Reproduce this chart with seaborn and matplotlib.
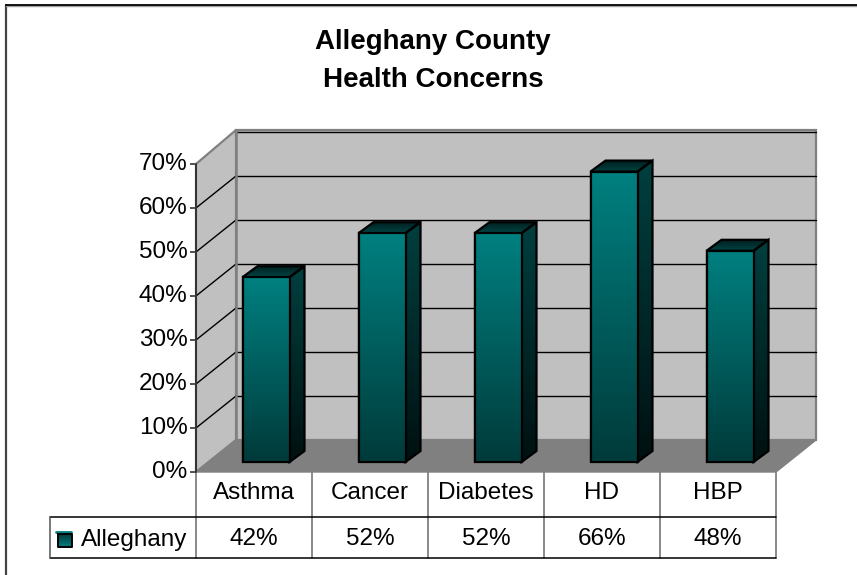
import numpy as np
import pandas as pd
import matplotlib
matplotlib.use('Agg')
import matplotlib.pyplot as plt
from matplotlib.colors import LinearSegmentedColormap
from matplotlib.patches import Polygon
from matplotlib.transforms import ScaledTranslation
import seaborn as sns

categories = ['Asthma', 'Cancer', 'Diabetes', 'HD', 'HBP']
values = [0.42, 0.52, 0.52, 0.66, 0.48]
series_name = 'Alleghany'
title = 'Alleghany County\nHealth Concerns'
y_ticks = [0, 0.1, 0.2, 0.3, 0.4, 0.5, 0.6, 0.7]

W, H = 857, 575
FS = 17.5
sns.set_theme(style='white')
plt.rcParams['font.family'] = ['Liberation Sans', 'DejaVu Sans']

front = LinearSegmentedColormap.from_list('front', ['#003a3a', '#008080'])
side = LinearSegmentedColormap.from_list('side', ['#001010', '#004040'])
top = LinearSegmentedColormap.from_list('top', ['#004545', '#001f1f'])


def px_axes(fig, x0, y_top, x1, y_bottom):
    return fig.add_axes([x0 / W, 1 - y_bottom / H, (x1 - x0) / W, (y_bottom - y_top) / H])


fig = plt.figure(figsize=(W / 100, H / 100), dpi=100, facecolor='white')

# page layer, pixel coordinates for frame and table
page = fig.add_axes([0, 0, 1, 1])
page.set_xlim(0, W)
page.set_ylim(H, 0)
page.axis('off')
page.plot([6, 6], [H, 4.5], color='#444444', lw=1.6)
page.plot([6, W], [5.5, 5.5], color='#a0a0a0', lw=1.0)
page.plot([6, W], [4.5, 4.5], color='black', lw=1.3)
page.text(433, 61, title, ha='center', va='center', fontsize=20, fontweight='bold',
          color='black', linespacing=1.6)

# walls share the value scale of the bars
wall = px_axes(fig, 196, 164, 776, 472)
wall.set_xlim(-0.5, 4.5)
wall.set_ylim(0, 0.7)
wall.patch.set_alpha(0)
sns.despine(ax=wall, left=True, bottom=True)
dx, dy = 40 / 116, 32 / 440
x0, x1, ymax = -0.5, 4.5, 0.7
up = 2 / 440
wall.add_patch(Polygon([(x0 + dx, dy), (x1 + dx, dy), (x1 + dx, ymax + dy + up), (x0 + dx, ymax + dy + up)],
                       fc='#c0c0c0', ec='#808080', lw=1.6, clip_on=False, zorder=1))
wall.add_patch(Polygon([(x0, 0), (x0 + dx, dy), (x0 + dx, ymax + dy + up), (x0, ymax)],
                       fc='#c0c0c0', ec='#808080', lw=1.6, clip_on=False, zorder=1))
wall.add_patch(Polygon([(x0, 0), (x1, 0), (x1 + dx, dy), (x0 + dx, dy)],
                       fc='#808080', ec='#808080', lw=1, clip_on=False, zorder=2))
for t in y_ticks[1:]:
    wall.plot([x0 + dx, x1 + dx], [t + dy, t + dy], color='black', lw=1.0, clip_on=False, zorder=2)
    if t < ymax:
        wall.plot([x0, x0 + dx], [t, t + dy], color='black', lw=1.0, clip_on=False, zorder=2)
wall.plot([x0 + dx, x0 + dx], [dy, ymax + dy + up], color='#808080', lw=1.8, clip_on=False, zorder=3)
wall.plot([x0, x0], [0, ymax], color='#333333', lw=1.4, clip_on=False, zorder=3)
wall.set_xticks([])
wall.set_yticks(y_ticks)
wall.set_yticklabels([f'{t:.0%}' for t in y_ticks], fontsize=FS, color='black')
wall.tick_params(axis='y', left=True, length=4, width=1.2, color='#333333', pad=2)
wall.tick_params(axis='x', bottom=False)
for lab in wall.get_yticklabels():
    lab.set_transform(lab.get_transform() + ScaledTranslation(0, 2 / 100, fig.dpi_scale_trans))
wall.set_xlabel('')
wall.set_ylabel('')

# bars stand a little behind the front edge of the floor
ax = px_axes(fig, 208, 154, 788, 462)
df = pd.DataFrame({'category': categories, 'value': values})
sns.barplot(data=df, x='category', y='value', color='#008080', width=47 / 116, ax=ax,
            saturation=1, edgecolor='black', linewidth=1.6, zorder=3)
ax.set_xlim(-0.5, 4.5)
ax.set_ylim(0, 0.7)
ax.axis('off')
ddx, ddy = 15 / 116, 11 / 440
grad = np.linspace(0, 1, 256).reshape(-1, 1)


def fill(poly, cmap, extent, data):
    ax.add_patch(poly)
    im = ax.imshow(data, origin='lower', cmap=cmap, extent=extent, aspect='auto', zorder=poly.get_zorder() - 0.1)
    im.set_clip_path(poly)


for bar in list(ax.patches):
    xl, w, v = bar.get_x(), bar.get_width(), bar.get_height()
    xr = xl + w
    s = Polygon([(xr, 0), (xr + ddx, ddy), (xr + ddx, v + ddy), (xr, v)], fc='none', ec='black',
                lw=1.6, zorder=4, clip_on=False)
    fill(s, side, (xr, xr + ddx, 0, v + ddy), grad)
    t = Polygon([(xl, v), (xr, v), (xr + ddx, v + ddy), (xl + ddx, v + ddy)], fc='none', ec='black',
                lw=1.6, zorder=4, clip_on=False)
    fill(t, top, (xl, xr + ddx, v, v + ddy), grad)
    f = Polygon([(xl, 0), (xr, 0), (xr, v), (xl, v)], fc='none', ec='black',
                lw=1.6, zorder=5, clip_on=False)
    fill(f, front, (xl, xr, 0, v), grad)
ax.set_xlim(-0.5, 4.5)
ax.set_ylim(0, 0.7)

# data table under the chart
col_edges = [196, 312, 428, 544, 660, 776]
for xe in col_edges:
    page.plot([xe, xe], [472, 557.5], color='#808080', lw=1.3)
page.plot([50, 776], [516.5, 516.5], color='black', lw=1.1)
page.plot([50, 776], [557.5, 557.5], color='black', lw=1.1)
page.plot([50, 50], [516.5, 557.5], color='#555555', lw=1.1)
for i, c in enumerate(categories):
    xc = (col_edges[i] + col_edges[i + 1]) / 2
    page.text(xc, 493, c, ha='center', va='center', fontsize=FS, color='black')
    page.text(xc, 539, f'{values[i]:.0%}', ha='center', va='center', fontsize=FS, color='black')
page.text(81, 540, series_name, ha='left', va='center', fontsize=FS, color='black')
page.imshow(grad[::-1], cmap=front.reversed(), extent=(58, 72, 547, 534), aspect='auto', zorder=3)
page.plot([56, 71], [532, 532], color='#008080', lw=2, zorder=3)
page.plot([58, 72, 72, 58, 58], [534, 534, 547, 547, 534], color='black', lw=1.4, zorder=4)
page.set_xlim(0, W)
page.set_ylim(H, 0)

fig.savefig('out.png', dpi=100)
